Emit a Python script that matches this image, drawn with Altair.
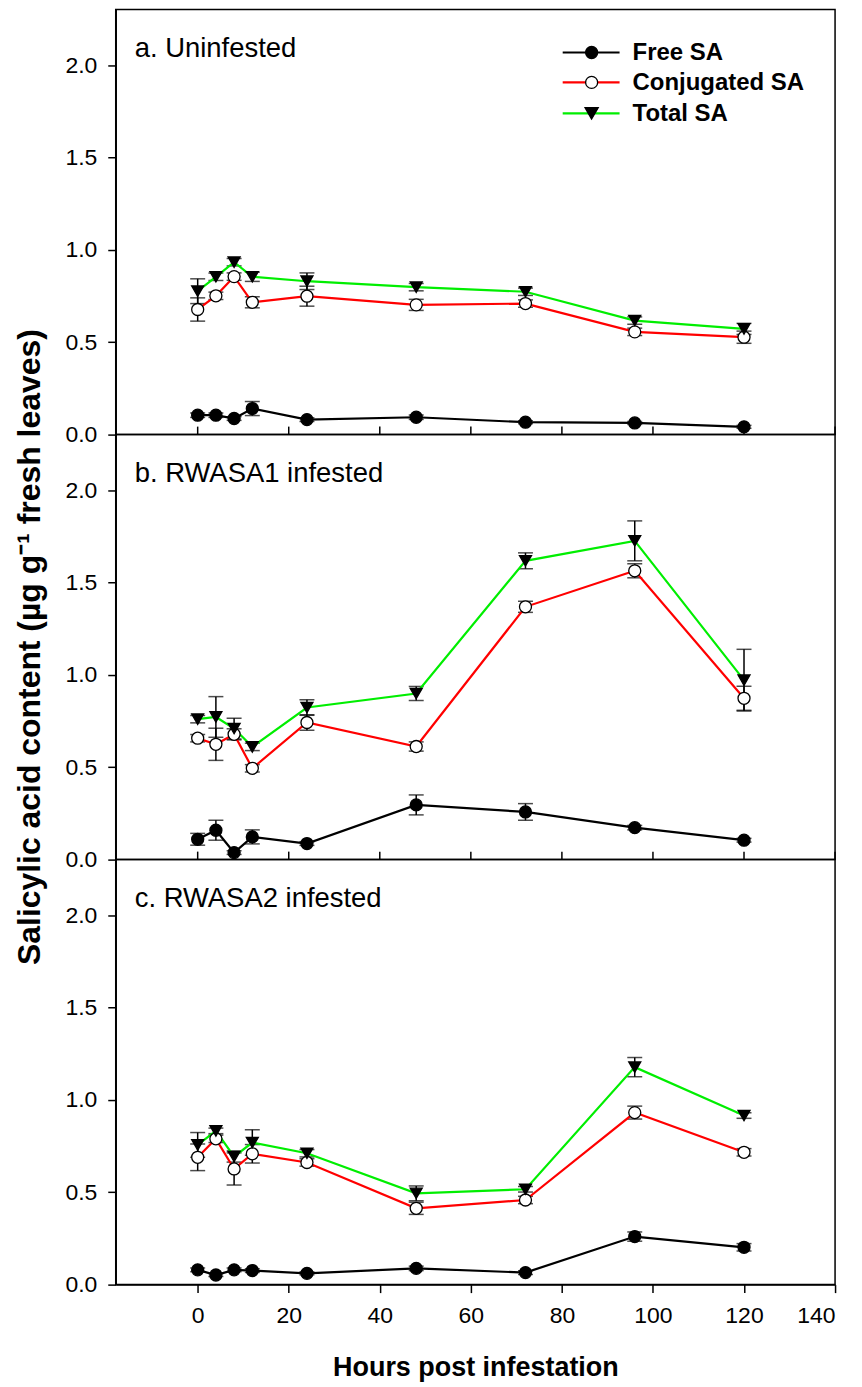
import altair as alt
import pandas as pd

hours = [0, 4, 8, 12, 24, 48, 72, 96, 120]
series_names = ["Free SA", "Conjugated SA", "Total SA"]
panels = ["a", "b", "c"]
panel_labels = ["a. Uninfested", "b. RWASA1 infested", "c. RWASA2 infested"]
x_ticks = [0, 20, 40, 60, 80, 100, 120, 140]
y_ticks = [0.0, 0.5, 1.0, 1.5, 2.0]

# Panel a: uninfested
a_free = [0.105, 0.105, 0.087, 0.141, 0.081, 0.094, 0.067, 0.063, 0.042]
a_free_err = [0.012, 0.012, 0.010, 0.038, 0.010, 0.012, 0.008, 0.008, 0.008]
a_conj = [0.677, 0.751, 0.855, 0.716, 0.749, 0.702, 0.709, 0.556, 0.527]
a_conj_err = [0.063, 0.020, 0.020, 0.030, 0.054, 0.030, 0.020, 0.020, 0.033]
a_total = [0.776, 0.854, 0.933, 0.854, 0.830, 0.798, 0.773, 0.617, 0.572]
a_total_err = [0.067, 0.020, 0.020, 0.025, 0.045, 0.020, 0.020, 0.020, 0.030]

# Panel b: RWASA1 infested
b_free = [0.110, 0.159, 0.038, 0.123, 0.087, 0.296, 0.258, 0.173, 0.105]
b_free_err = [0.032, 0.054, 0.010, 0.038, 0.010, 0.054, 0.045, 0.012, 0.010]
b_conj = [0.657, 0.624, 0.678, 0.494, 0.742, 0.612, 1.368, 1.563, 0.873]
b_conj_err = [0.020, 0.087, 0.030, 0.020, 0.042, 0.025, 0.030, 0.038, 0.065]
b_total = [0.760, 0.772, 0.709, 0.610, 0.823, 0.899, 1.617, 1.725, 0.971]
b_total_err = [0.020, 0.110, 0.056, 0.020, 0.042, 0.038, 0.043, 0.108, 0.167]

# Panel c: RWASA2 infested
c_free = [0.080, 0.052, 0.080, 0.076, 0.061, 0.088, 0.065, 0.260, 0.202]
c_free_err = [0.010, 0.008, 0.010, 0.010, 0.008, 0.012, 0.010, 0.025, 0.020]
c_conj = [0.689, 0.789, 0.626, 0.708, 0.661, 0.413, 0.458, 0.931, 0.716]
c_conj_err = [0.072, 0.020, 0.087, 0.050, 0.020, 0.033, 0.020, 0.035, 0.020]
c_total = [0.756, 0.832, 0.693, 0.769, 0.711, 0.494, 0.516, 1.177, 0.915]
c_total_err = [0.067, 0.015, 0.030, 0.069, 0.020, 0.040, 0.015, 0.052, 0.015]

values = {
    "a": [(a_free, a_free_err), (a_conj, a_conj_err), (a_total, a_total_err)],
    "b": [(b_free, b_free_err), (b_conj, b_conj_err), (b_total, b_total_err)],
    "c": [(c_free, c_free_err), (c_conj, c_conj_err), (c_total, c_total_err)],
}

rows = []
for p in panels:
    for s, (vals, errs) in zip(series_names, values[p]):
        for h, v, e in zip(hours, vals, errs):
            rows.append({"kind": "data", "panel": p, "series": s, "hour": h,
                         "value": v, "lo": v - e, "hi": v + e})
for p, lab in zip(panels, panel_labels):
    rows.append({"kind": "label", "panel": p, "label": lab})
for p in ["a", "b"]:
    for t in x_ticks:
        rows.append({"kind": "itick", "panel": p, "hour": t})
for s in series_names:
    rows.append({"kind": "legend", "panel": "a", "series": s})
df = pd.DataFrame(rows)

FONT = "Liberation Sans"
W, H = 721, 426

x_enc = alt.X("hour:Q",
              scale=alt.Scale(domain=[-18, 140], nice=False, zero=False),
              axis=alt.Axis(values=x_ticks, title="Hours post infestation",
                            grid=False, tickSize=8, labelPadding=12,
                            titlePadding=27))
y_enc = alt.Y("value:Q",
              scale=alt.Scale(domain=[0, 2.3], nice=False),
              axis=alt.Axis(values=y_ticks, format=".1f", title=None,
                            grid=False, tickSize=8, labelPadding=11))

color_scale = alt.Scale(domain=series_names, range=["#000000", "#ff0000", "#00ee00"])
fill_scale = alt.Scale(domain=series_names, range=["#000000", "#ffffff", "#000000"])
shape_scale = alt.Scale(domain=series_names, range=["circle", "circle", "triangle-down"])
size_scale = alt.Scale(domain=series_names, range=[145, 145, 175])

base = alt.Chart()
data_base = base.transform_filter(alt.datum.kind == "data")

err = data_base.mark_rule(color="black", strokeWidth=1.5).encode(
    x=x_enc, y=alt.Y("lo:Q"), y2="hi:Q")
cap_lo = data_base.mark_tick(color="black", orient="horizontal", size=15, thickness=1.5).encode(
    x=x_enc, y=alt.Y("lo:Q"))
cap_hi = data_base.mark_tick(color="black", orient="horizontal", size=15, thickness=1.5).encode(
    x=x_enc, y=alt.Y("hi:Q"))
lines = data_base.mark_line(strokeWidth=2.2).encode(
    x=x_enc, y=y_enc,
    color=alt.Color("series:N", scale=color_scale, legend=None),
    detail="series:N")
pts = data_base.mark_point(filled=True, strokeWidth=1.3, opacity=1).encode(
    x=x_enc, y=y_enc,
    fill=alt.Fill("series:N", scale=fill_scale, legend=None),
    shape=alt.Shape("series:N", scale=shape_scale, legend=None),
    size=alt.Size("series:N", scale=size_scale, legend=None),
    stroke=alt.value("black"))

iticks = base.transform_filter(alt.datum.kind == "itick").mark_rule(
    color="black", strokeWidth=1.5).encode(
    x=x_enc, y=alt.value(H - 8), y2=alt.value(H))

labels = base.transform_filter(alt.datum.kind == "label").mark_text(
    align="left", baseline="alphabetic", fontSize=27.5, font=FONT, color="black").encode(
    text="label:N", x=alt.value(19), y=alt.value(48))

legend_layers = []
leg_y = [43, 73, 104]
leg_col = ["#000000", "#ff0000", "#00ee00"]
leg_fill = ["#000000", "#ffffff", "#000000"]
leg_shape = ["circle", "circle", "triangle-down"]
leg_size = [145, 145, 175]
for s, ly, c, f, sh, sz in zip(series_names, leg_y, leg_col, leg_fill, leg_shape, leg_size):
    lb = base.transform_filter((alt.datum.kind == "legend") & (alt.datum.series == s))
    legend_layers.append(lb.mark_rule(color=c, strokeWidth=2.2).encode(
        x=alt.value(448), x2=alt.value(505), y=alt.value(ly)))
    legend_layers.append(lb.mark_point(filled=True, size=sz, strokeWidth=1.3, opacity=1,
                                       fill=f, stroke="black", shape=sh).encode(
        x=alt.value(477), y=alt.value(ly)))
    legend_layers.append(lb.mark_text(align="left", baseline="middle", fontSize=24,
                                      fontWeight="bold", font=FONT, color="black").encode(
        text="series:N", x=alt.value(518), y=alt.value(ly + 1)))

layered = alt.layer(err, cap_lo, cap_hi, lines, pts, iticks, labels, *legend_layers,
                    data=df).properties(width=W, height=H)

chart = layered.facet(
    row=alt.Row("panel:N", sort=panels,
                title="Salicylic acid content (\u00b5g g\u207b\u00b9 fresh leaves)",
                header=alt.Header(labels=False, titleFontSize=32, titleFontWeight="bold",
                                  titleFont=FONT, titleColor="black", titlePadding=8)),
    spacing=0,
    bounds="flush",
).properties(
    padding={"left": 13, "top": 7, "right": 25, "bottom": 0},
    background="white",
).configure_view(
    stroke="black", strokeWidth=1.5
).configure_axis(
    labelFont=FONT, labelFontSize=23, labelColor="black",
    titleFont=FONT, titleFontSize=27, titleFontWeight="bold", titleColor="black",
    tickColor="black", tickWidth=1.5, domainColor="black", domainWidth=1.5,
)

chart.save("out.html", embed_options={"renderer": "svg", "actions": False})
